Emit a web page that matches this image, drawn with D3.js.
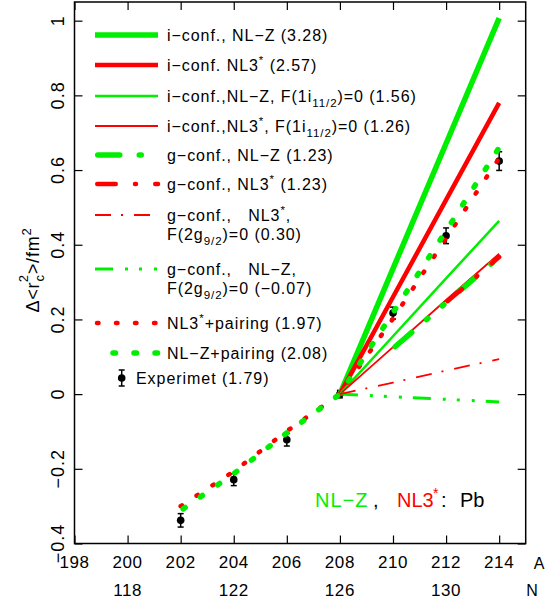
<!DOCTYPE html>
<html>
<head>
<meta charset="utf-8">
<script src="https://cdn.jsdelivr.net/npm/d3@7"></script>
<style>
  body { margin: 0; background: #fff; }
  text { font-family: "Liberation Sans", Arial, sans-serif; fill: #000; }
</style>
</head>
<body>
<div id="chart"></div>
<script>
// ---- data ----
const xTicks = [198, 200, 202, 204, 206, 208, 210, 212, 214]
const yTicks = [-0.4, -0.2, 0, 0.2, 0.4, 0.6, 0.8, 1]
const nTickA = [200, 204, 208, 212]
const nTickLabels = ['118', '122', '126', '130']

const aPair = [202, 204, 206, 208, 210, 212, 214]
const pairNL3 = [-0.300, -0.207, -0.099, 0, 0.202, 0.417, 0.632]
const pairNLZ = [-0.312, -0.213, -0.104, 0, 0.218, 0.437, 0.660]

const aConf = [208, 210, 212, 214]
const iConfNLZ = [0, 0.336, 0.671, 1.007]
const iConfNL3 = [0, 0.260, 0.520, 0.780]
const iConfNLZf = [0, 0.155, 0.310, 0.464]
const iConfNL3f = [0, 0.126, 0.252, 0.376]
const gConfNL3f = [0, 0.031, 0.063, 0.094]
const gConfNLZf = [0, -0.007, -0.014, -0.021]

const aGNLZ = [210, 212, 214]
const gConfNLZ = [0.122, 0.245, 0.367]
const aGNL3 = [212, 214]
const gConfNL3 = [0.245, 0.367]

const expA = [202, 204, 206, 208, 210, 212, 214]
const expVal = [-0.338, -0.229, -0.122, 0, 0.217, 0.424, 0.624]
const expErr = [0.018, 0.016, 0.017, 0.010, 0.016, 0.021, 0.025]

const GREEN = '#00ee00'
const RED = '#ff0000'

const W = 559, H = 606
const x = d3.scaleLinear().domain([198, 215]).range([74.5, 525.7])
const y = d3.scaleLinear().domain([-0.4, 1.05]).range([543.5, 2])

const svg = d3.select('#chart').append('svg')
      .attr('width', W).attr('height', H)

const zip = (a, b) => a.map((v, i) => [v, b[i]])
const line = d3.line().x(d => x(d[0])).y(d => y(d[1]))

// text with ^{..} and _{..}
const rich = (t, s, base) => {
    let shift = 0
    s.split(/([_^]\{[^}]*\})/).filter(p => p).forEach(p => {
	const m = p.match(/^([_^])\{(.*)\}$/)
	const ts = t.append('tspan')
	if (m) {
	    const ns = m[1] === '^' ? -0.42 * base : 0.32 * base
	    ts.attr('dy', ns - shift).style('font-size', (0.72 * base) + 'px').text(m[2])
	    shift = ns
	} else {
	    ts.attr('dy', -shift).text(p)
	    shift = 0
	}
    })
}

// series: styles + legend rows
const series = [
    {a: aConf, v: iConfNLZ, c: GREEN, w: 5.5, row: 35, label: 'i\u2212conf., NL\u2212Z (3.28)'},
    {a: aConf, v: iConfNL3, c: RED, w: 4.5, row: 65, label: 'i\u2212conf. NL3^{*} (2.57)'},
    {a: aConf, v: iConfNLZf, c: GREEN, w: 2.5, row: 96, label: 'i\u2212conf.,NL\u2212Z, F(1i_{11/2})=0 (1.56)'},
    {a: aConf, v: iConfNL3f, c: RED, w: 1.8, row: 126, label: 'i\u2212conf.,NL3^{*}, F(1i_{11/2})=0 (1.26)'},
    {a: aConf, v: gConfNLZf, c: GREEN, w: 3, dash: '18 12 3 11 3 12 3 11', row: 269,
     label: 'g\u2212conf.,   NL\u2212Z,', label2: 'F(2g_{9/2})=0 (\u22120.07)'},
    {a: aConf, v: gConfNL3f, c: RED, w: 1.8, dash: '16 10 2 11', row: 215,
     label: 'g\u2212conf.,   NL3^{*},', label2: 'F(2g_{9/2})=0 (0.30)'},
    {a: aGNLZ, v: gConfNLZ, c: GREEN, w: 5.5, dash: '22 19.5 2 19 2 20.5', off: -2.75, cap: 'round',
     row: 155, label: 'g\u2212conf., NL\u2212Z (1.23)'},
    {a: aGNL3, v: gConfNL3, c: RED, w: 4.5, dash: '18.5 19.25 1 19.25', off: -2.25, cap: 'round',
     row: 184, label: 'g\u2212conf., NL3^{*} (1.23)'},
    {a: aPair, v: pairNL3, c: RED, w: 4.5, dash: '1.5 17.5', cap: 'round', row: 323,
     label: 'NL3^{*}+pairing (1.97)', lx0: 97},
    {a: aPair, v: pairNLZ, c: GREEN, w: 5.5, dash: '2.5 18.5', cap: 'round', off: -3, row: 353,
     label: 'NL\u2212Z+pairing (2.08)', lx0: 110},
]

// experiment (under the curves)
const drawExp = (g, cx, cy, e) => {
    g.append('line').attr('x1', cx).attr('x2', cx).attr('y1', cy - e).attr('y2', cy + e)
	.attr('stroke', '#000').attr('stroke-width', 1.5)
    ;[cy - e, cy + e].forEach(yy => g.append('line')
	.attr('x1', cx - 3).attr('x2', cx + 3).attr('y1', yy).attr('y2', yy)
	.attr('stroke', '#000').attr('stroke-width', 1.5))
    g.append('circle').attr('cx', cx).attr('cy', cy).attr('r', 3.8).attr('fill', '#000')
}
const expG = svg.append('g')
expA.forEach((a, i) => {
    const cy = y(expVal[i])
    drawExp(expG, x(a), cy, y(expVal[i] - expErr[i]) - cy)
})

// curves
const curves = svg.append('g')
series.forEach(s => {
    curves.append('path')
	.attr('d', line(zip(s.a, s.v)))
	.attr('fill', 'none')
	.attr('stroke', s.c)
	.attr('stroke-width', s.w)
	.attr('stroke-linecap', s.cap || 'butt')
	.attr('stroke-dasharray', s.dash || null)
	.attr('stroke-dashoffset', s.off || 0)
})

// legend
const LF = 16, LS = '0.95px'
const leg = svg.append('g')
series.forEach(s => {
    leg.append('line')
	.attr('x1', s.lx0 || 95).attr('x2', 158).attr('y1', s.row).attr('y2', s.row)
	.attr('stroke', s.c).attr('stroke-width', s.w)
	.attr('stroke-linecap', s.cap || 'butt')
	.attr('stroke-dasharray', s.dash || null)
	.attr('stroke-dashoffset', s.off || 0)
    const t = leg.append('text').attr('x', 167).attr('y', s.row + 5.5)
	  .style('font-size', LF + 'px').style('letter-spacing', LS)
	  .style('white-space', 'pre')
    rich(t, s.label, LF)
    if (s.label2) {
	const t2 = leg.append('text').attr('x', 167).attr('y', s.row + 24.5)
	      .style('font-size', LF + 'px').style('letter-spacing', LS)
	rich(t2, s.label2, LF)
    }
})
drawExp(leg, 121.7, 378, 8)
leg.append('text').attr('x', 136).attr('y', 383.5)
    .style('font-size', LF + 'px').style('letter-spacing', LS)
    .text('Experimet (1.79)')

// frame + inward ticks
const frame = svg.append('g')
frame.append('rect').attr('x', x(198)).attr('y', y(1.05))
    .attr('width', x(215) - x(198)).attr('height', y(-0.4) - y(1.05))
    .attr('fill', 'none').attr('stroke', '#000').attr('stroke-width', 1.5)

const tickStyle = g => {
    g.select('.domain').remove()
    g.selectAll('.tick line').attr('stroke', '#000').attr('stroke-width', 1.2)
    g.selectAll('.tick text').remove()
}
frame.append('g').attr('transform', `translate(0,${y(-0.4)})`)
    .call(d3.axisBottom(x).tickValues(xTicks).tickSize(-8)).call(tickStyle)
frame.append('g').attr('transform', `translate(0,${y(1.05)})`)
    .call(d3.axisTop(x).tickValues(xTicks).tickSize(-8)).call(tickStyle)
frame.append('g').attr('transform', `translate(${x(198)},0)`)
    .call(d3.axisLeft(y).tickValues(yTicks).tickSize(-8)).call(tickStyle)
frame.append('g').attr('transform', `translate(${x(215)},0)`)
    .call(d3.axisRight(y).tickValues(yTicks).tickSize(-8)).call(tickStyle)

// tick labels
const fmt = d3.format('')
svg.append('g').selectAll('text').data(xTicks).join('text')
    .attr('x', d => x(d)).attr('y', 568)
    .attr('text-anchor', 'middle')
    .style('font-size', '17px').style('letter-spacing', '0.6px')
    .text(d => d)
svg.append('g').selectAll('text').data(nTickA).join('text')
    .attr('x', d => x(d)).attr('y', 596)
    .attr('text-anchor', 'middle')
    .style('font-size', '17px').style('letter-spacing', '0.6px')
    .text((d, i) => nTickLabels[i])
svg.append('text').attr('x', 539).attr('y', 569).attr('text-anchor', 'middle')
    .style('font-size', '16px').text('A')
svg.append('text').attr('x', 532).attr('y', 596).attr('text-anchor', 'middle')
    .style('font-size', '16px').text('N')

svg.append('g').selectAll('text').data(yTicks).join('text')
    .attr('transform', d => `translate(64,${y(d)}) rotate(-90)`)
    .attr('text-anchor', 'middle')
    .style('font-size', '18px').style('letter-spacing', '1px')
    .text(d => fmt(d))

// y axis title
const yt = svg.append('text')
      .attr('transform', 'translate(39,270) rotate(-90)')
      .attr('text-anchor', 'middle')
      .style('font-size', '18px').style('letter-spacing', '0.8px')
yt.append('tspan').text('\u0394<r')
yt.append('tspan').attr('dy', 5).style('font-size', '13px').text('c')
yt.append('tspan').attr('dx', -8).attr('dy', -16).style('font-size', '13px').text('2')
yt.append('tspan').attr('dy', 11).text('>/fm')
yt.append('tspan').attr('dy', -8).style('font-size', '13px').text('2')

// model note
const note = svg.append('g').style('font-size', '20px')
note.append('text').attr('x', 315).attr('y', 507).style('fill', GREEN)
    .style('letter-spacing', '1px').text('NL\u2212Z')
note.append('text').attr('x', 373).attr('y', 507).text(',')
note.append('text').attr('x', 397).attr('y', 507).style('fill', RED).text('NL3')
note.append('text').attr('x', 433).attr('y', 498).style('fill', RED)
    .style('font-size', '14px').text('*')
note.append('text').attr('x', 441).attr('y', 507).text(':')
note.append('text').attr('x', 460).attr('y', 507).text('Pb')
</script>
</body>
</html>
